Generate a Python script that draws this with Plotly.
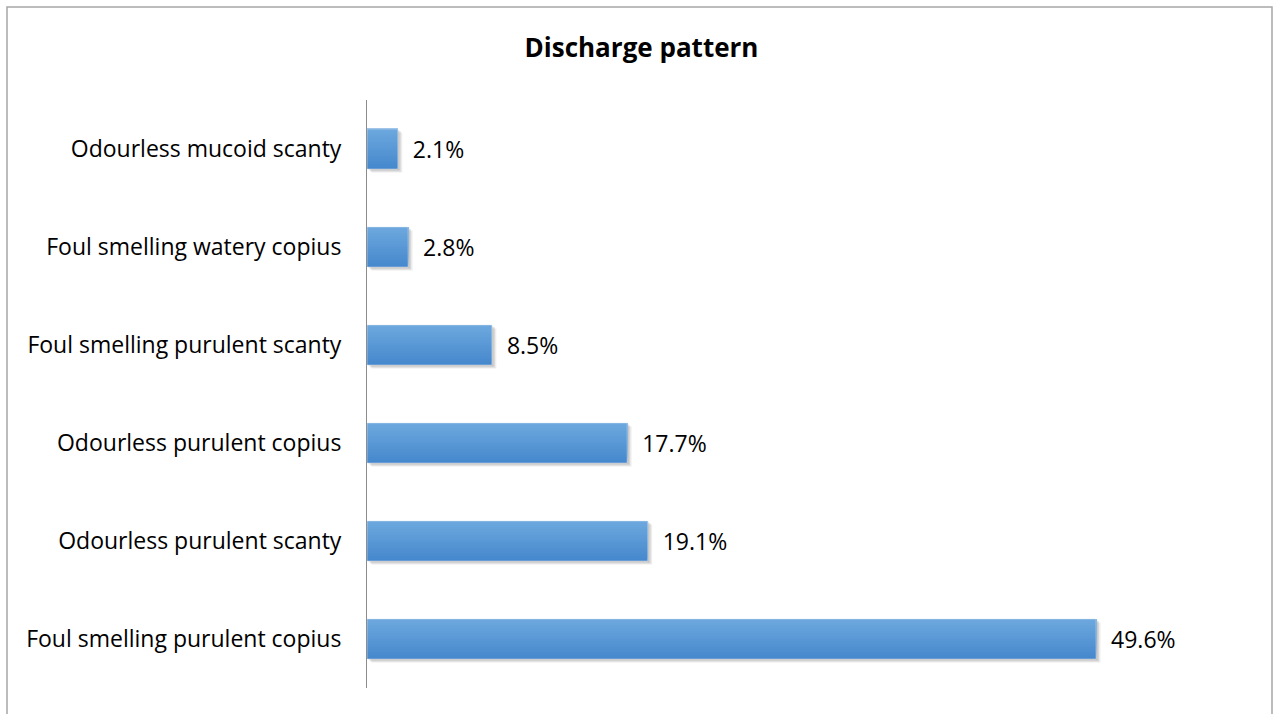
import plotly.graph_objects as go

categories = ["Foul smelling purulent copius", "Odourless purulent scanty", "Odourless purulent copius",
              "Foul smelling purulent scanty", "Foul smelling watery copius", "Odourless mucoid scanty"]
values = [49.6, 19.1, 17.7, 8.5, 2.8, 2.1]
labels = [f"{v:.1f}%" for v in values]

W, H = 1279, 714
L, R, T, B = 367, 30, 100, 26
pw = W - L - R
ph = H - T - B
FONT = "Open Sans, sans-serif"

fig = go.Figure()
bw = 0.41
# soft shadow
for k, a in enumerate([0.10, 0.09, 0.07]):
    sh = 0.012 * (k + 1)
    fig.add_trace(go.Bar(x=values, y=categories, orientation="h", width=bw, offset=-bw / 2 - sh,
                         base=[0.1 * (k + 1)] * len(values),
                         marker=dict(color=f"rgba(0,0,0,{a})", line=dict(width=0)),
                         hoverinfo="skip", showlegend=False))
# gradient bands (each band extends to the top, later ones overpaint)
n = 20
top = (108, 168, 222)
bot = (70, 136, 205)
for i in range(n):
    t = i / (n - 1)
    c = tuple(int(round(bot[j] + (top[j] - bot[j]) * t)) for j in range(3))
    fig.add_trace(go.Bar(x=values, y=categories, orientation="h", width=bw - i * bw / n,
                         offset=-bw / 2 + i * bw / n,
                         marker=dict(color=f"rgb{c}", line=dict(width=0)),
                         hoverinfo="skip", showlegend=False))
# data labels
fig.add_trace(go.Bar(x=values, y=categories, orientation="h", width=bw,
                     marker=dict(color="rgba(0,0,0,0)"), text=labels,
                     texttemplate="  %{text}", textposition="outside",
                     textfont=dict(family=FONT, size=23, color="#000"),
                     cliponaxis=False, hoverinfo="skip", showlegend=False))

fig.update_layout(
    width=W, height=H, barmode="overlay",
    margin=dict(l=L, r=R, t=T, b=B, autoexpand=False),
    paper_bgcolor="white", plot_bgcolor="white",
    title=dict(text="<b>Discharge pattern</b>", x=(525 + 758) / 2 / W, xanchor="center",
               y=1 - 48 / H, yanchor="middle", font=dict(family=FONT, size=26, color="#000")),
    xaxis=dict(range=[0, 60], visible=False, fixedrange=True),
    yaxis=dict(categoryorder="array", categoryarray=categories, showline=True, linecolor="#8c8c8c",
               linewidth=1, ticks="", showgrid=False, zeroline=False, ticklabelstandoff=20,
               tickfont=dict(family=FONT, size=23, color="#000"), fixedrange=True),
    font=dict(family=FONT),
    shapes=[dict(type="rect", xref="paper", yref="paper",
                 x0=(7 - L) / pw, x1=(1272 - L) / pw, y0=-(B + 40) / ph, y1=(H - 7 - B) / ph,
                 line=dict(color="#a6a6a6", width=1.5), fillcolor="rgba(0,0,0,0)", layer="below")],
)
fig.write_html("out.html", config={"displayModeBar": False},
               post_script="document.body.style.margin='0';document.body.style.overflow='hidden';")
